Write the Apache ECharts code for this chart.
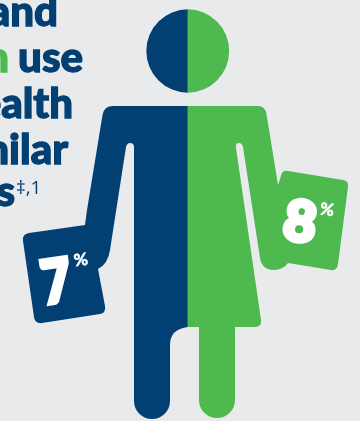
<!DOCTYPE html>
<html>
<head>
<meta charset="utf-8">
<style>html,body{margin:0;padding:0;background:#e9eaec}#c{width:360px;height:421px}</style>
<script src="https://cdn.jsdelivr.net/npm/echarts@6/dist/echarts.min.js"></script>
</head>
<body>
<div id="c"></div>
<script>
// Share of each group, shown on the cards held by the two halves of the figure
const groups = ['Men', 'Women'];
const shares = [7, 8];
const groupColors = ['#023f73', '#4db94e'];
const headlineLines = ['and', 'use', 'health', 'similar', 's'];

// Half silhouettes, drawn on a 360x421 canvas
const silhouettes = [
  'M188 9.3A41.7 41.7 0 0 0 188 92.7Z' +
  'M188 106H113Q104 106 102.5 115L87 210L85 225L29 233Q22 234 23 241L34 317Q35 324 42 323L100 314Q106 313 105 306L98 269Q108 264 110 250L126 147Q127 143 130 143Q134 143 134 147V401A18 18 0 0 0 170 401V345Q170 329 188 327Z',
  'M187.5 9.3A41.7 41.7 0 0 1 187.5 92.7Z' +
  'M187.5 106H258Q265 106 266.5 114L278 185L281 176Q282 170 288 171L343 180Q349 181 348 187L338 264Q337 271 331 270L288 263Q283 270 274 270Q262 270 260 258L243 147Q242 143 239 143Q235 143 236 148L261 320Q262 327 255 327H235V400A18 18 0 0 1 199 400V327H187.5Z'
];
const figureLabels = [
  { x: 56.5, y: 283, px: 81, py: 260, rot: 0.14, size: 60, sx: 0.85, weight: 4.5 },
  { x: 300, y: 223, px: 327, py: 210, rot: -0.15, size: 56, sx: 1, weight: 4.5 }
];

const chart = echarts.init(document.getElementById('c'), null, { renderer: 'canvas' });
const headFont = 'Lato';

function renderFigure(params, api) {
  const i = params.dataIndex;
  const l = figureLabels[i];
  return {
    type: 'group',
    children: [
      { type: 'path', shape: { pathData: silhouettes[i] }, style: { fill: groupColors[i] } },
      { type: 'text', x: l.x, y: l.y, rotation: l.rot, scaleX: l.sx,
        style: { text: String(api.value(0)), fill: '#fff', stroke: '#fff', lineWidth: l.weight, font: '900 ' + l.size + 'px ' + headFont, align: 'center', verticalAlign: 'middle' } },
      { type: 'text', x: l.px, y: l.py, rotation: l.rot,
        style: { text: '%', fill: '#fff', stroke: '#fff', lineWidth: 0.4, font: '900 17px ' + headFont, align: 'center', verticalAlign: 'middle' } }
    ]
  };
}

function headline(text, right, baseline, fill) {
  const color = fill || groupColors[0];
  return { type: 'text', x: right, y: baseline - 37,
    style: { text, fill: color, stroke: color, lineWidth: 1.3, font: '900 42px ' + headFont, align: 'right', verticalAlign: 'top' } };
}

chart.setOption({
  backgroundColor: '#e9eaec',
  animation: false,
  series: [{
    type: 'custom',
    coordinateSystem: 'none',
    renderItem: renderFigure,
    data: shares.map((v, i) => ({ name: groups[i], value: [v] }))
  }],
  graphic: [
    headline(headlineLines[0], 58, 28),
    headline('n', 9, 74, groupColors[1]),
    headline(headlineLines[1], 83, 74),
    headline(headlineLines[2], 73, 120),
    headline(headlineLines[3], 68, 166),
    headline(headlineLines[4], 15, 208),
    { type: 'text', x: 16, y: 179, style: { text: '‡,1', fill: groupColors[0], font: '400 19px "Open Sans"', align: 'left', verticalAlign: 'top' } }
  ]
});
</script>
</body>
</html>
